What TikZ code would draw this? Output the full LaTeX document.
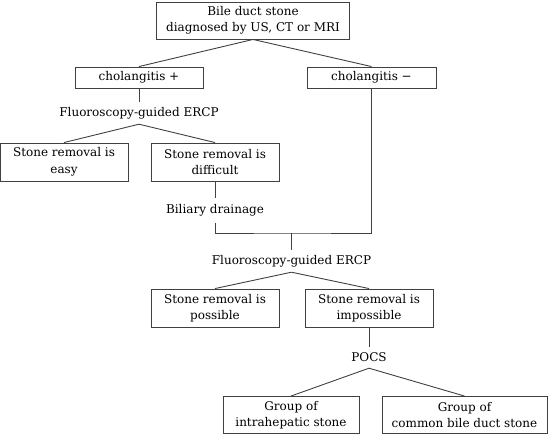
\documentclass[tikz,border=0pt]{standalone}
\usepackage{fontspec}
\setmainfont{DejaVu Serif}
\begin{document}
\begin{tikzpicture}[x=1pt, y=-1pt,
  caja/.style={draw=black!75, line width=0.9pt, align=center, minimum width=128pt, minimum height=38pt, inner sep=1pt, font=\fontsize{12}{16.5}\selectfont},
  cajab/.style={caja, minimum height=21pt},
  etiq/.style={align=center, inner sep=0pt, minimum height=22pt, font=\fontsize{12}{16.5}\selectfont},
  linea/.style={draw=black!75, line width=0.9pt}]
\useasboundingbox (0,0) rectangle (550,441);
\node[caja, minimum width=193pt, minimum height=37pt] (inicio) at (253,20.5) {Bile duct stone\\diagnosed by US, CT or MRI};
\node[cajab] (colmas) at (139,77.5) {cholangitis +};
\node[cajab, minimum width=129pt] (colmenos) at (371.5,77.5) {cholangitis −};
\node[etiq] (ercpa) at (139,113) {Fluoroscopy-guided ERCP};
\node[caja] (facil) at (64,162) {Stone removal is\\easy};
\node[caja] (dificil) at (215,162) {Stone removal is\\difficult};
\node[etiq, minimum height=24pt] (drenaje) at (215,210.5) {Biliary drainage};
\coordinate (union) at (291.5,233);
\node[etiq] (ercpb) at (291.5,261) {Fluoroscopy-guided ERCP};
\node[caja] (posible) at (215,308) {Stone removal is\\possible};
\node[caja] (imposible) at (369,308) {Stone removal is\\impossible};
\node[etiq, minimum height=21pt] (pocs) at (369,357.5) {POCS};
\node[caja, minimum width=136pt, minimum height=37pt] (intra) at (291,415) {Group of\\intrahepatic stone};
\node[caja, minimum width=165pt, minimum height=37pt] (coledoco) at (464.5,415) {Group of\\common bile duct stone};

\draw[linea] (inicio.south) -- (colmas.north);
\draw[linea] (inicio.south) -- (colmenos.north);
\draw[linea] (colmas.south) -- (ercpa.north);
\draw[linea] (ercpa.south) -- (facil.north);
\draw[linea] (ercpa.south) -- (dificil.north);
\draw[linea] (dificil.south) -- (drenaje.north);
\draw[linea] (drenaje.south) |- (union) -| (colmenos.south);
\draw[linea] (union) -- (ercpb.north);
\draw[linea] (ercpb.south) -- (posible.north);
\draw[linea] (ercpb.south) -- (imposible.north);
\draw[linea] (imposible.south) -- (pocs.north);
\draw[linea] (pocs.south) -- (intra.north);
\draw[linea] (pocs.south) -- (coledoco.north);
\end{tikzpicture}
\end{document}
